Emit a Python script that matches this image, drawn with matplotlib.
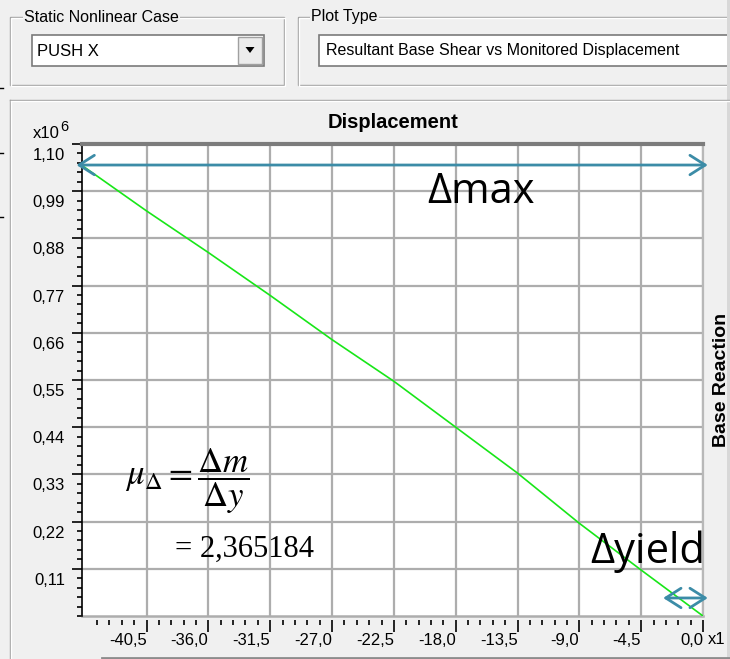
import numpy as np
import matplotlib
matplotlib.use('Agg')
import matplotlib.pyplot as plt
import matplotlib.transforms as mtransforms
from matplotlib.patches import Rectangle, Polygon
from matplotlib.ticker import FixedLocator, MultipleLocator

plt.rcParams['font.family'] = ['Liberation Sans', 'DejaVu Sans']
plt.rcParams['mathtext.fontset'] = 'stix'

# pushover curve (displacement, base reaction in 1e6)
displacement = [-45.2, -40.5, -36.0, -31.5, -27.0, -22.5, -18.0, -13.5, -9.0, -4.5, 0.0]
base_reaction = [1.050, 0.944, 0.847, 0.747, 0.644, 0.547, 0.440, 0.333, 0.216, 0.107, 0.0]

x_ticks = [-40.5, -36.0, -31.5, -27.0, -22.5, -18.0, -13.5, -9.0, -4.5, 0.0]
y_ticks = [0.11, 0.22, 0.33, 0.44, 0.55, 0.66, 0.77, 0.88, 0.99, 1.10]

delta_max_level = 1.051    # height of the Δmax arrow
delta_yield_level = 0.042  # height of the Δyield arrow
delta_yield_start = -2.9
ductility = '2,365184'

W, H = 730, 659
fig = plt.figure(figsize=(W / 100, H / 100), dpi=100, facecolor='#f0f0f0')

# ---- window chrome, drawn in pixel coordinates
ui = fig.add_axes([0, 0, 1, 1])
ui.set_xlim(0, W)
ui.set_ylim(H, 0)
ui.axis('off')


def etched_box(x0, y0, x1, y1):
    ui.add_patch(Rectangle((x0, y0), x1 - x0, y1 - y0, fill=False, ec='#a0a0a0', lw=1))
    ui.add_patch(Rectangle((x0 + 1, y0 + 1), x1 - x0, y1 - y0, fill=False, ec='white', lw=1))


etched_box(10, 17, 284, 85)
etched_box(298, 17, 760, 85)
ui.text(24, 17, 'Static Nonlinear Case', fontsize=11.5, va='center', ha='left',
        bbox=dict(fc='#f0f0f0', ec='none', pad=1))
ui.text(311, 17, 'Plot Type', fontsize=11.5, va='center', ha='left',
        bbox=dict(fc='#f0f0f0', ec='none', pad=1))

# combo box
ui.add_patch(Rectangle((32, 35), 232, 31, fc='white', ec='#7a7a7a', lw=1.2))
ui.add_patch(Rectangle((238, 37), 24, 27, fc='#ececec', ec='#a0a0a0', lw=1))
ui.add_patch(Polygon([(245.5, 47), (254.5, 47), (250, 53)], closed=True, fc='black', ec='none'))
ui.text(37, 51, 'PUSH X', fontsize=12, va='center', ha='left')

# plot type text box
ui.add_patch(Rectangle((319, 35), 440, 31, fc='white', ec='#7a7a7a', lw=1.2))
ui.text(326, 51, 'Resultant Base Shear vs Monitored Displacement', fontsize=11.5,
        va='center', ha='left')

# plot panel
ui.plot([10, 10], [100, H], color='#a0a0a0', lw=1)
ui.plot([11, 11], [101, H], color='white', lw=1)
ui.plot([10, W], [100, 100], color='#a0a0a0', lw=1)
ui.plot([11, W], [101, 101], color='white', lw=1)
ui.plot([102, W], [657.5, 657.5], color='#8c8c8c', lw=2)
ui.add_patch(Rectangle((727, 0), 3, H, fc='#d8d8d8', ec='none'))
for yy in [88, 153, 217]:
    ui.plot([0, 3], [yy, yy], color='black', lw=1)

fig.text(393 / W, 1 - 123 / H, 'Displacement', ha='center', va='center',
         fontsize=14.5, fontweight='bold')
fig.text(33 / W, 1 - 134 / H, 'x10', ha='left', va='center', fontsize=12)
fig.text(60 / W, 1 - 127 / H, '6', ha='left', va='center', fontsize=10.5)
fig.text(722 / W, 1 - 380 / H, 'Base Reaction', ha='center', va='center',
         rotation=90, fontsize=14, fontweight='bold')

# ---- the chart itself
ax = fig.add_axes([82 / W, 1 - 616 / H, (703 - 82) / W, (616 - 144) / H])
ax.set_facecolor('white')
ax.plot(displacement, base_reaction, color='#18e618', lw=1.2, zorder=3)

ax.set_xlim(-45.2, 0)
ax.set_ylim(0, 1.10)

ax.set_xticks(x_ticks)
ax.set_xticklabels([f'{v:.1f}'.replace('.', ',') for v in x_ticks])
ax.xaxis.set_minor_locator(FixedLocator([k * 0.9 for k in range(-49, 0)]))
ax.set_yticks(y_ticks)
ax.set_yticklabels([f'{v:.2f}'.replace('.', ',') for v in y_ticks])
ax.yaxis.set_minor_locator(MultipleLocator(0.022))

ax.grid(True, which='major', color='#adadad', lw=1.6)
ax.set_axisbelow(True)
ax.axhline(0, color='#adadad', lw=1.8, clip_on=False, zorder=1)

ax.spines['top'].set_color('#7c7c7c')
ax.spines['top'].set_linewidth(3)
ax.spines['right'].set_color('#b8b8b8')
ax.spines['right'].set_linewidth(1.6)
ax.spines['left'].set_color('black')
ax.spines['left'].set_linewidth(1.2)
ax.spines['bottom'].set_position(('outward', 3))
ax.spines['bottom'].set_color('none')

ax.tick_params(axis='y', which='major', direction='out', length=7.2, width=1.2,
               pad=5, labelsize=12)
ax.tick_params(axis='y', which='minor', direction='out', length=3.6, width=1.2)
ax.tick_params(axis='x', which='major', direction='out', length=8.6, width=1.2,
               pad=0.5, labelsize=12)
ax.tick_params(axis='x', which='minor', direction='out', length=3.9, width=1.2)

shift = mtransforms.ScaledTranslation(0, -0.10, fig.dpi_scale_trans)
for lbl in ax.get_yticklabels():
    lbl.set_transform(lbl.get_transform() + shift)
for lbl in ax.get_xticklabels():
    lbl.set_horizontalalignment('right')

fig.text(708 / W, 1 - 640 / H, 'x1', ha='left', va='center', fontsize=12)

# ---- annotations
arrow_col = '#3c8ca7'
arrow_kw = dict(arrowstyle='<->,head_length=1.1,head_width=0.7', color=arrow_col,
                lw=2.0, shrinkA=0, shrinkB=0)
ax.annotate('', xy=(-45.6, delta_max_level), xytext=(0.35, delta_max_level),
            arrowprops=arrow_kw, annotation_clip=False)
ax.annotate('', xy=(delta_yield_start, delta_yield_level), xytext=(0.35, delta_yield_level),
            arrowprops=arrow_kw, annotation_clip=False)

fig.text(427 / W, 1 - 203 / H, 'Δmax', ha='left', va='baseline', fontsize=30,
         family=['Open Sans', 'DejaVu Sans'])
fig.text(590 / W, 1 - 563 / H, 'Δyield', ha='left', va='baseline', fontsize=30,
         family=['Open Sans', 'DejaVu Sans'])

fig.text(125 / W, 1 - 481 / H, r'$\mu_{\Delta} = \dfrac{\Delta m}{\Delta y}$',
         ha='left', va='center', fontsize=25)
fig.text(175 / W, 1 - 557 / H, '= ' + ductility, ha='left', va='baseline',
         fontsize=22, family=['Liberation Serif', 'DejaVu Serif'])

fig.savefig('out.png', dpi=100, facecolor=fig.get_facecolor())
